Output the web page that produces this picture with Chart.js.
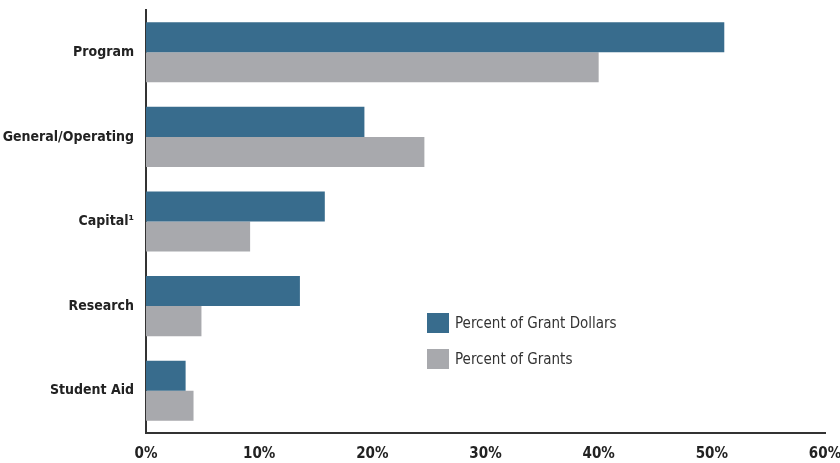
<!DOCTYPE html>
<html lang="en">
    <head>
        <meta charset="UTF-8">
        <title>Grant types</title>
        <script src="https://cdn.jsdelivr.net/npm/chart.js@4.4.1/dist/chart.umd.min.js"></script>
        <style>
            html, body {
                margin: 0;
                padding: 0;
                background: #ffffff;
            }
            #wrap {
                width: 840px;
                height: 463px;
                position: relative;
            }
        </style>
    </head>
    <body>
        <div id="wrap"><canvas id="myChart"></canvas></div>
    </body>
    <script>
        var categories = ["Program", "General/Operating", "Capital\u00B9", "Research", "Student Aid"]
        var grantDollars = [51.1, 19.3, 15.8, 13.6, 3.5]
        var grantCount = [40.0, 24.6, 9.2, 4.9, 4.2]
        var seriesNames = ["Percent of Grant Dollars", "Percent of Grants"]
        var xTicks = [0, 10, 20, 30, 40, 50, 60]

        var fontFamily = "'Liberation Sans Narrow', 'DejaVu Sans Condensed', 'Roboto', sans-serif"

        // legend drawn inside the plot, at the spot used in the original
        var boxLegend = {
            id: 'boxLegend',
            afterDraw(chart) {
                var ctx = chart.ctx
                ctx.save()
                ctx.font = "15px " + fontFamily
                ctx.textBaseline = "middle"
                chart.data.datasets.forEach((ds, i) => {
                    var y = 313 + i * 36
                    ctx.fillStyle = ds.backgroundColor
                    ctx.fillRect(427, y, 22, 20)
                    ctx.fillStyle = "#333333"
                    ctx.fillText(ds.label, 455, y + 11)
                })
                ctx.restore()
            }
        }

        var ctx = document.getElementById('myChart').getContext('2d')
        var myChart = new Chart(ctx, {
            type: 'bar',
            data: {
                labels: categories,
                datasets: [
                    {
                        label: seriesNames[0],
                        data: grantDollars,
                        backgroundColor: '#386c8d',
                    },
                    {
                        label: seriesNames[1],
                        data: grantCount,
                        backgroundColor: '#a8a9ad',
                    }
                ]
            },
            options: {
                indexAxis: 'y',
                responsive: true,
                maintainAspectRatio: false,
                animation: false,
                layout: {
                    padding: { top: 10, left: 0, right: 0, bottom: 0 }
                },
                datasets: {
                    bar: {
                        categoryPercentage: 0.71,
                        barPercentage: 1.0,
                        borderWidth: 0,
                    }
                },
                scales: {
                    x: {
                        min: 0,
                        max: 60,
                        afterBuildTicks: (s) => { s.ticks = xTicks.map(v => ({ value: v })) },
                        afterFit: (s) => { s.height = 30; s.paddingRight = 15; s.paddingLeft = 0 },
                        grid: { display: false, drawTicks: false },
                        border: { display: true, color: '#333333', width: 2 },
                        ticks: {
                            padding: 12,
                            color: '#222222',
                            font: { family: fontFamily, size: 15, weight: 'bold' },
                            callback: (v) => v + '%',
                            maxRotation: 0,
                        }
                    },
                    y: {
                        afterFit: (s) => { s.width = 146; s.paddingTop = 0; s.paddingBottom = 0 },
                        grid: { display: false, drawTicks: false },
                        border: { display: true, color: '#333333', width: 2 },
                        ticks: {
                            padding: 12,
                            color: '#222222',
                            font: { family: fontFamily, size: 14, weight: 'bold' },
                        }
                    }
                },
                plugins: {
                    legend: { display: false },
                    tooltip: { enabled: false },
                }
            },
            plugins: [boxLegend]
        })
    </script>
</html>
